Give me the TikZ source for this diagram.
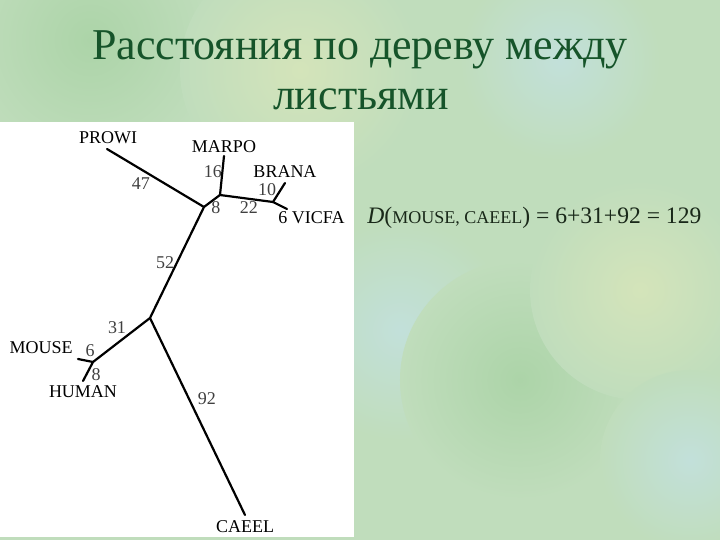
\documentclass[tikz,border=0pt]{standalone}
\usepackage{fontspec}
\setmainfont{Liberation Serif}
\definecolor{titlegreen}{RGB}{22,84,42}
\definecolor{bgbase}{RGB}{192,221,188}
\definecolor{bgblue}{RGB}{194,224,218}
\definecolor{bgyellow}{RGB}{212,228,186}
\definecolor{bggreen}{RGB}{172,212,168}
\definecolor{inkdark}{RGB}{25,40,25}
\begin{document}
\begin{tikzpicture}[x=0.5pt,y=-0.5pt,
    branch/.style={line width=1.1pt,line cap=round},
    leaf/.style={font=\fontsize{9}{10}\selectfont,inner sep=0pt},
    len/.style={font=\fontsize{9}{10}\selectfont,text=black!75,inner sep=0pt},
    blob/.style={inner color=#1,outer color=bgbase}]
  \useasboundingbox (0,0) rectangle (720,540);

  % background
  \fill[bgbase] (0,0) rectangle (720,540);
  \shade[blob=bggreen] (90,40) circle (130);
  \shade[blob=bgyellow] (300,70) circle (120);
  \shade[blob=bgblue] (560,60) circle (100);
  \shade[blob=bgblue] (400,330) circle (110);
  \shade[blob=bggreen] (520,380) circle (120);
  \shade[blob=bgyellow] (640,290) circle (110);
  \shade[blob=bgblue] (690,460) circle (90);

  % white panel
  \fill[white] (0,122) rectangle (354,537);

  % title
  \node[text=titlegreen,font=\fontsize{22}{26}\selectfont] (title1) at (360,50) {Расстояния по дереву между};
  \node[text=titlegreen,font=\fontsize{22}{26}\selectfont] (title2) at (361,99) {листьями};

  % inner vertices and leaf ends
  \coordinate (vA) at (204,207);
  \coordinate (vB) at (220,195);
  \coordinate (vC) at (273,202);
  \coordinate (vD) at (150,318);
  \coordinate (vE) at (93,362);
  \coordinate (tPROWI) at (107,149);
  \coordinate (tMARPO) at (224,156);
  \coordinate (tBRANA) at (285,183);
  \coordinate (tVICFA) at (287,209);
  \coordinate (tMOUSE) at (78,359);
  \coordinate (tHUMAN) at (83,381);
  \coordinate (tCAEEL) at (245,515);

  % branches
  \draw[branch] (tPROWI) -- (vA);
  \draw[branch] (vA) -- (vB);
  \draw[branch] (vB) -- (tMARPO);
  \draw[branch] (vB) -- (vC);
  \draw[branch] (vC) -- (tBRANA);
  \draw[branch] (vC) -- (tVICFA);
  \draw[branch] (vA) -- (vD);
  \draw[branch] (vD) -- (vE);
  \draw[branch] (vE) -- (tMOUSE);
  \draw[branch] (vE) -- (tHUMAN);
  \draw[branch] (vD) -- (tCAEEL);

  % leaf names
  \node[leaf] (lPROWI) at (108,138) {PROWI};
  \node[leaf] (lMARPO) at (224,147) {MARPO};
  \node[leaf] (lBRANA) at (285,172) {BRANA};
  \node[leaf,anchor=west] (lVICFA) at (278,218) {6 VICFA};
  \node[leaf,anchor=east] (lMOUSE) at (73,348) {MOUSE};
  \node[leaf] (lHUMAN) at (83,392) {HUMAN};
  \node[leaf] (lCAEEL) at (245,527) {CAEEL};

  % branch lengths
  \node[len] (w47) at (141,184) {47};
  \node[len] (w16) at (213,172) {16};
  \node[len] (w10) at (267,190) {10};
  \node[len] (w8a) at (216,208) {8};
  \node[len] (w22) at (249,208) {22};
  \node[len] (w52) at (165,263) {52};
  \node[len] (w31) at (117,328) {31};
  \node[len] (w6) at (90,351) {6};
  \node[len] (w8b) at (96,375) {8};
  \node[len] (w92) at (207,399) {92};

  % distance formula
  \node[anchor=west,text=inkdark,font=\fontsize{11.8}{14}\selectfont,inner sep=0pt] (dist) at (367,218)
    {\textit{D}({\fontsize{9}{11}\selectfont MOUSE, CAEEL}) = 6+31+92 = 129};
\end{tikzpicture}
\end{document}
